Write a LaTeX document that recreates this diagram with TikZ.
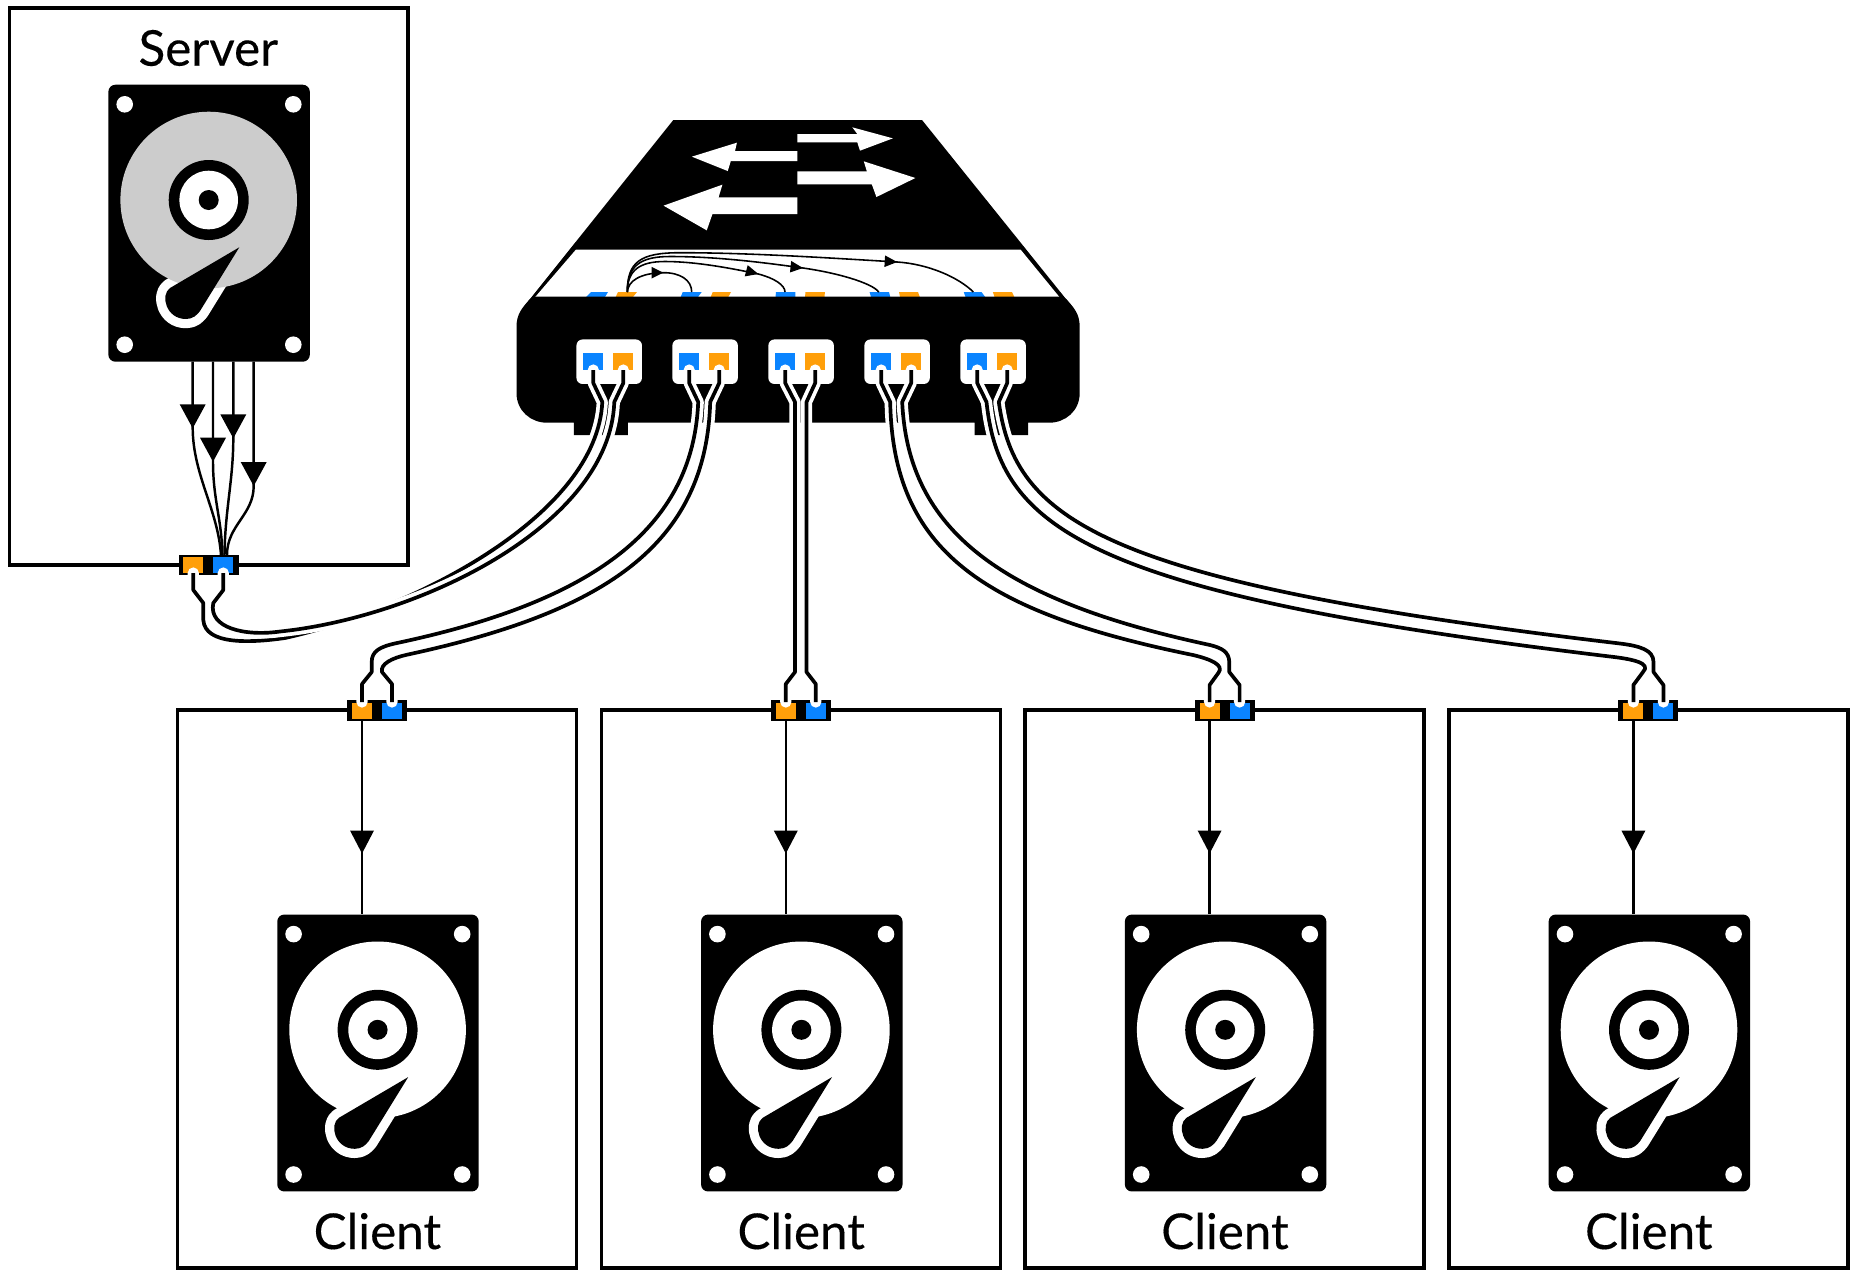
\documentclass[tikz,border=0pt]{standalone}
\usepackage{fontspec}
\newfontfamily\capfont[FakeBold=0.25]{Lato}
\definecolor{portblue}{HTML}{0A84FF}
\definecolor{portorange}{HTML}{FF9F0A}
\tikzset{
  hostbox/.style={draw=black,fill=white,line width=1.95pt,inner sep=0pt,outer sep=0pt},
  diskbody/.style={fill=black,rounded corners=0.14cm,inner sep=0pt,outer sep=0pt,minimum width=4.03cm,minimum height=5.54cm},
  socketbody/.style={fill=black,inner sep=0pt,outer sep=0pt,minimum width=1.2cm,minimum height=0.41cm},
  captext/.style={inner sep=0pt,font=\capfont\fontsize{28.1}{30}\selectfont},
  linkline/.style={draw=black,line width=1.4pt},
  thinline/.style={draw=black,line width=0.9pt},
  wirecase/.style={draw=white,line width=6.4pt,line cap=round,line join=round},
  wirecore/.style={draw=black,line width=2.1pt,line join=round},
}
\newcommand{\headtri}[5]{\fill[black,shift={(#1,#2)},rotate=#3] (0,0) -- (-#4,#5) -- (-#4,-#5) -- cycle;}
\newcommand{\hddicon}[4]{%
  \begin{scope}[shift={(#1,#2)}]
    \node[diskbody] (#4) at (0.4,23.2) {};
    \draw[white,line width=10.5pt,line join=round] (30.6,47.3) -- (-38.7,88) .. controls (-48.7,95) and (-42.7,119) .. (-22.7,119) .. controls (-15.7,119) and (-11.7,115) .. (-8.7,111) -- cycle;
    \fill[#3] (0,0) circle (88.3);
    \fill[black] (0,0) circle (40);
    \fill[white] (0,0) circle (29.3);
    \fill[black] (0,0) circle (10);
    \fill[black] (30.6,47.3) -- (-38.7,88) .. controls (-48.7,95) and (-42.7,119) .. (-22.7,119) .. controls (-15.7,119) and (-11.7,115) .. (-8.7,111) -- cycle;
    \foreach \hx/\hy in {-84/-95.7,84.6/-95.7,-84/144.7,84.6/144.7}{\fill[white] (\hx,\hy) circle (8.3);}
  \end{scope}}
\newcommand{\wire}[1]{\draw[wirecase] #1; \draw[wirecore] #1;}
\begin{document}
\begin{tikzpicture}[x=0.02cm,y=-0.02cm]
\useasboundingbox (0,0) rectangle (1856,1276);
\fill[white] (0,0) rectangle (1856,1276);

% server
\node[hostbox,minimum width=7.97cm,minimum height=11.14cm] (srv) at (208.7,286.5) {};
\node[captext] (srvlabel) at (208.3,48) {Server};
\hddicon{208.7}{200}{black!20}{d0}
\foreach \n/\sx/\tx/\ty/\ex/\cax/\cay/\cbx/\cby in {
  1/192.7/192.7/428.3/221/193/475/218/510,
  2/213/213/461.7/222.3/213/500/222/520,
  3/233.3/233.3/438.3/224.5/233.3/480/225/510,
  4/253.7/253.7/486/227/253.7/515/227/525}{
  \coordinate (sa\n) at (\sx,361.7);
  \coordinate (sm\n) at (\tx,\ty);
  \coordinate (sc\n) at (\ex,555);
  \draw[linkline] (sa\n) -- (sm\n) .. controls (\cax,\cay) and (\cbx,\cby) .. (sc\n);
  \headtri{\tx}{\ty}{-90}{24}{13}
}
\node[socketbody] (ss) at (208.7,565) {};
\fill[portorange] (183.3,557) rectangle (203.3,573);
\fill[portblue] (213.3,557) rectangle (233.3,573);

% clients
\foreach \n/\cx in {1/377,2/800.8,3/1224.6,4/1648.4}{
  \node[hostbox,minimum width=7.98cm,minimum height=11.16cm] (c\n) at (\cx,989) {};
  \node[captext] (clabel\n) at (\cx+0.4,1231) {Client};
  \hddicon{\cx+0.6}{1029.8}{white}{d\n}
  \node[socketbody] (cs\n) at (\cx,710.7) {};
  \fill[portorange] (\cx-25,702.7) rectangle (\cx-5,719);
  \fill[portblue] (\cx+5,702.7) rectangle (\cx+25,719);
  \coordinate (ca\n) at (\cx-15,720);
  \coordinate (cb\n) at (\cx-15,914);
  \draw[linkline] (ca\n) -- (cb\n);
  \headtri{\cx-15}{853.5}{-90}{23}{12}
}

% switch
\fill[black] (673.3,120) -- (922,120) -- (1070,304) -- (526,304) -- cycle;
\fill[white] (576,249.5) -- (1020.5,249.5) -- (1059.4,297) -- (535.2,297) -- cycle;
\fill[portblue] (586,297) -- (591,292) -- (608,292) -- (605,297) -- cycle;
\fill[portorange] (615.7,297) -- (618,292) -- (637,292) -- (633,297) -- cycle;
\fill[portblue] (680.7,297) -- (682.7,292) -- (701.7,292) -- (698,297) -- cycle;
\fill[portorange] (710.7,297) -- (712.7,292) -- (731,292) -- (728.3,297) -- cycle;
\fill[portblue] (775.5,297) -- (776,292) -- (795.4,292) -- (795.4,297) -- cycle;
\fill[portorange] (805,297) -- (805.5,292) -- (824.9,292) -- (824.5,297) -- cycle;
\fill[portblue] (871,297) -- (869.6,292) -- (889,292) -- (890.3,297) -- cycle;
\fill[portorange] (900,297) -- (899,292) -- (918,292) -- (919.8,297) -- cycle;
\fill[portblue] (965.5,297) -- (963.8,292) -- (981.5,292) -- (985.2,297) -- cycle;
\fill[portorange] (994.5,297) -- (992.9,292) -- (1012,292) -- (1014.3,297) -- cycle;
\fill[black] (516.5,393) -- (516.5,327) .. controls (516.5,314) and (522,308) .. (530,299) -- (535,296.7) -- (1061.2,296.7) -- (1066.2,299) .. controls (1074.2,308) and (1079.7,314) .. (1079.7,327) -- (1079.7,393) .. controls (1079.7,411) and (1065.2,422.7) .. (1049.2,422.7) -- (1028,422.7) -- (1028,435) -- (974.5,435) -- (974.5,422.7) -- (627.8,422.7) -- (627.8,435) -- (573.9,435) -- (573.9,422.7) -- (547,422.7) .. controls (531,422.7) and (516.5,411) .. (516.5,393) -- cycle;

% white arrows on the switch
\begin{scope}[shift={(500,100)},x=0.00765cm,y=-0.00667cm]
  \fill[white] (778,102) -- (935,102) -- (922,82) -- (1028,115) -- (942,152) -- (935,127) -- (778,127) -- cycle;
  \fill[white] (778,153) -- (615,153) -- (620,128) -- (502,170) -- (596,213) -- (604,183) -- (778,183) -- cycle;
  \fill[white] (778,214) -- (960,214) -- (952,184) -- (1087,234) -- (985,291) -- (973,253) -- (778,253) -- cycle;
  \fill[white] (778,292) -- (572,292) -- (582,254) -- (428,317) -- (541,391) -- (556,342) -- (778,342) -- cycle;
\end{scope}

% internal connectors of the switch
\coordinate (io) at (627.3,292);
\coordinate (ib1) at (691.7,292);
\coordinate (ib2) at (785,292);
\coordinate (ib3) at (878.8,292);
\coordinate (ib4) at (973.4,292);
\draw[thinline] (io) .. controls (627.3,262) and (640,252.7) .. (680,252.7) .. controls (750,252.7) and (830,258) .. (897.2,262) .. controls (928,264) and (958,277) .. (ib4);
\draw[thinline] (io) .. controls (627.3,266) and (640,256.5) .. (670,256.5) .. controls (715,256.5) and (760,262) .. (803,268) .. controls (838,273) and (872,283) .. (ib3);
\draw[thinline] (io) .. controls (627.3,270) and (640,261.5) .. (665,261.5) .. controls (695,261.5) and (730,268) .. (758.3,274) .. controls (774,278) and (785,285) .. (ib2);
\draw[thinline] (io) .. controls (628,281) and (640,273) .. (663.3,272.7) .. controls (680,272.5) and (691.7,280) .. (ib1);
\headtri{663.3}{272.7}{0}{11.7}{5.8}
\headtri{758.3}{274}{-15}{12.5}{5.8}
\headtri{803}{268}{-6}{12.5}{5.8}
\headtri{897.2}{262}{-3.5}{12.5}{5.8}

% front ports of the switch
\foreach \n/\bx in {1/576.5,2/672.4,3/768.4,4/864.4,5/960.4}{
  \node[fill=white,rounded corners=0.12cm,inner sep=0pt,outer sep=0pt,minimum width=1.31cm,minimum height=0.89cm] (fp\n) at (\bx+32.7,361.7) {};
  \fill[portblue] (\bx+6.8,352.7) rectangle (\bx+26.8,370);
  \fill[portorange] (\bx+36.8,352.7) rectangle (\bx+56.8,370);
  \coordinate (pb\n) at (\bx+16.8,370);
  \coordinate (po\n) at (\bx+46.8,370);
}
\foreach \n/\cx in {1/377,2/800.8,3/1224.6,4/1648.4}{
  \coordinate (so\n) at (\cx-15,702);
  \coordinate (sb\n) at (\cx+15,702);
}
\coordinate (ssa) at (193.3,573);
\coordinate (ssb) at (223.3,573);

% cables: server to port 1
\wire{(ssa) -- (193.3,590) -- (203.3,603) -- (203.3,620) .. controls (205,645) and (250,643) .. (285,638) .. controls (415,609) and (597,515) .. (602.3,402) -- (pb1 |- 0,383) -- (pb1)}
\wire{(ssb) -- (223.3,590) -- (213.3,603) .. controls (208,628) and (245,636.5) .. (280,631.5) .. controls (420,617) and (610,525) .. (614.3,402) -- (po1 |- 0,383) -- (po1)}
% port 2 to client 1
\wire{(so1) -- (362,684) -- (371.7,672) -- (371.7,662) .. controls (371.7,651) and (380,646.6) .. (397,643) .. controls (590,602) and (693,530) .. (698.2,402) -- (pb2 |- 0,383) -- (pb2)}
\wire{(sb1) -- (392,684) -- (382,672) .. controls (380,664) and (392,658) .. (407,654.7) .. controls (605,612) and (706,545) .. (710.2,402) -- (po2 |- 0,383) -- (po2)}
% port 3 to client 2
\wire{(so2) -- (785.8,684) -- (795,672) -- (795,402) -- (pb3 |- 0,383) -- (pb3)}
\wire{(sb2) -- (815.8,684) -- (806.5,672) -- (806.5,402) -- (po3 |- 0,383) -- (po3)}
% port 4 to client 3
\wire{(so3) -- (1209.6,685) -- (1218.3,673) .. controls (1225,665) and (1210,659) .. (1193,655) .. controls (982,612) and (893,550) .. (890.2,402) -- (pb4 |- 0,383) -- (pb4)}
\wire{(sb3) -- (1239.6,685) -- (1229.3,672) -- (1229.3,662) .. controls (1229,652) and (1222,648) .. (1210,645) .. controls (1000,600) and (908,530) .. (902.2,402) -- (po4 |- 0,383) -- (po4)}
% port 5 to client 4
\wire{(so4) -- (1633.4,685) -- (1643,672) .. controls (1652,663) and (1632,659) .. (1610,656.5) .. controls (1090,594) and (1000,530) .. (986.5,402) -- (pb5 |- 0,383) -- (pb5)}
\wire{(sb4) -- (1663.4,685) -- (1653.5,672) -- (1653.5,662) .. controls (1653.5,650) and (1640,646) .. (1620,643.5) .. controls (1100,582) and (1015,520) .. (998.8,402) -- (po5 |- 0,383) -- (po5)}
\end{tikzpicture}
\end{document}
